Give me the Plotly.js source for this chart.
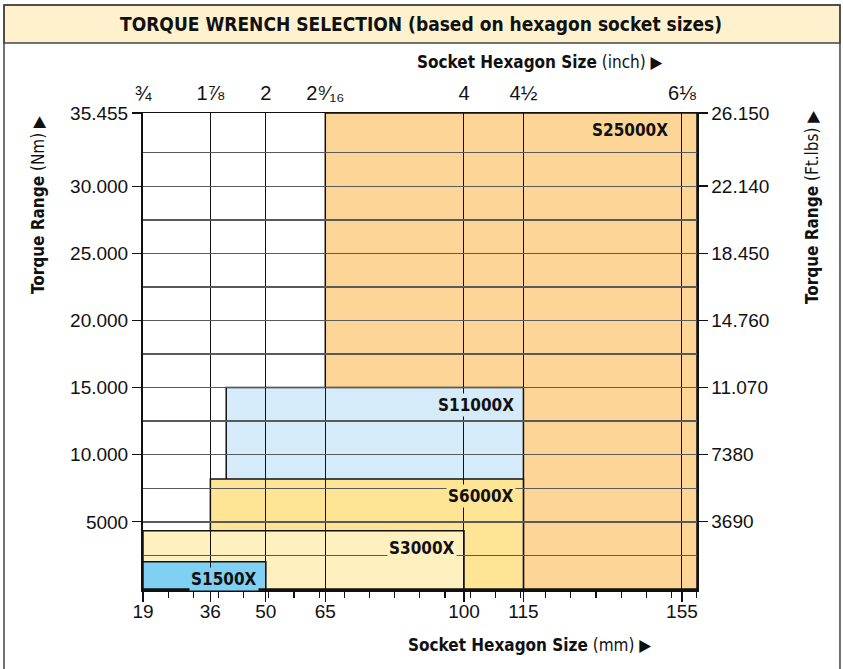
<!DOCTYPE html>
<html>
<head>
<meta charset="utf-8">
<script src="https://cdn.plot.ly/plotly-3.0.1.min.js"></script>
<style>
  html, body { margin: 0; padding: 0; background: #ffffff; }
  #chart { width: 843px; height: 669px; }
</style>
</head>
<body>
<div id="chart"></div>
<script>
// ---- data ----
var models      = ['S25000X', 'S11000X', 'S6000X', 'S3000X', 'S1500X'];
var minSocketMm = [65, 40, 36, 19, 19];
var maxSocketMm = [158.8, 115, 115, 100, 50];
var minTorqueNm = [0, 0, 0, 0, 0];
var maxTorqueNm = [35455, 15000, 8200, 4330, 2034];
var boxColors   = ['#FDD596', '#D5EBFA', '#FEE596', '#FEF0BF', '#80D0F4'];

var mmTicks      = [19, 36, 50, 65, 100, 115, 155];
var mmTickText   = ['19', '36', '50', '65', '100', '115', '155'];
var inchTickText = ['\u00BE', '1\u215E', '2', '2\u2079\u2044\u2081\u2086', '4', '4\u00BD', '6\u215B'];

var nmTicks      = [5000, 10000, 15000, 20000, 25000, 30000, 35455];
var nmTickText   = ['5000', '10.000', '15.000', '20.000', '25.000', '30.000', '35.455'];
var nmGridVals   = [2500, 5000, 7500, 10000, 12500, 15000, 17500, 20000, 22500, 25000, 27500, 30000, 32500];
var ftlbTicks    = [3690, 7380, 11070, 14760, 18450, 22140, 26150];
var ftlbTickText = ['3690', '7380', '11.070', '14.760', '18.450', '22.140', '26.150'];

var xRange   = [19, 158.8];
var nmRange  = [0, 35455];
var ftRange  = [0, 26150];

// ---- styling ----
var NARROW = '"Liberation Sans Narrow", "DejaVu Sans Condensed", "Liberation Sans", sans-serif';
var REG = '"Liberation Sans", Arial, sans-serif';
var tickFont = { family: REG, size: 19, color: '#111111' };

var shapes = [];
var annotations = [];

// frame and title band (paper coordinates)
shapes.push({ type: 'rect', xref: 'paper', yref: 'paper', x0: -0.2509, x1: 1.2581, y0: 1.1471, y1: 1.2269,
  fillcolor: '#FEF2CE', line: { color: '#444444', width: 1.5 }, layer: 'below' });
shapes.push({ type: 'rect', xref: 'paper', yref: 'paper', x0: -0.2509, x1: 1.2581, y0: -0.25, y1: 1.2269,
  fillcolor: 'rgba(0,0,0,0)', line: { color: '#444444', width: 1.5 }, layer: 'below' });

for (var i = 0; i < models.length; i++) {
  shapes.push({
    type: 'rect', xref: 'x', yref: 'y',
    x0: minSocketMm[i], x1: maxSocketMm[i], y0: minTorqueNm[i], y1: maxTorqueNm[i],
    fillcolor: boxColors[i], line: { color: '#111111', width: 1.5 }, layer: 'below'
  });
  annotations.push({
    xref: 'x', yref: 'y', x: Math.min(maxSocketMm[i], 155), y: maxTorqueNm[i],
    xanchor: 'right', yanchor: 'middle',
    xshift: (maxSocketMm[i] > 155 ? -12 : -7), yshift: -17,
    text: '<b>' + models[i] + '</b>', showarrow: false,
    font: { family: NARROW, size: 17, color: '#111111' },
    bgcolor: boxColors[i], borderpad: 1
  });
}

annotations.push({ xref: 'paper', yref: 'paper', x: 0.5018, y: 1.187, xanchor: 'center', yanchor: 'middle',
  text: '<b>TORQUE WRENCH SELECTION (based on hexagon socket sizes)</b>', showarrow: false,
  font: { family: NARROW, size: 19, color: '#111111' } });
annotations.push({ xref: 'paper', yref: 'paper', x: 0.7166, y: 1.1071, xanchor: 'center', yanchor: 'middle',
  text: '<b>Socket Hexagon Size</b> (inch) \u25B6', showarrow: false,
  font: { family: NARROW, size: 17, color: '#111111' } });
annotations.push({ xref: 'paper', yref: 'paper', x: 0.6968, y: -0.1176, xanchor: 'center', yanchor: 'middle',
  text: '<b>Socket Hexagon Size</b> (mm) \u25B6', showarrow: false,
  font: { family: NARROW, size: 17, color: '#111111' } });
annotations.push({ xref: 'paper', yref: 'paper', x: -0.1895, y: 0.8067, xanchor: 'center', yanchor: 'middle',
  textangle: -90, text: '<b>Torque Range</b> (Nm) \u25B6', showarrow: false,
  font: { family: NARROW, size: 17, color: '#111111' } });
annotations.push({ xref: 'paper', yref: 'paper', x: 1.2076, y: 0.8004, xanchor: 'center', yanchor: 'middle',
  textangle: -90, text: '<b>Torque Range</b> (Ft.lbs) \u25B6', showarrow: false,
  font: { family: NARROW, size: 17, color: '#111111' } });

var data = [
  { type: 'scatter', x: [null], y: [null], xaxis: 'x', yaxis: 'y', hoverinfo: 'skip', showlegend: false },
  { type: 'scatter', x: [null], y: [null], xaxis: 'x2', yaxis: 'y', hoverinfo: 'skip', showlegend: false },
  { type: 'scatter', x: [null], y: [null], xaxis: 'x', yaxis: 'y2', hoverinfo: 'skip', showlegend: false },
  { type: 'scatter', x: [null], y: [null], xaxis: 'x', yaxis: 'y3', hoverinfo: 'skip', showlegend: false }
];

var layout = {
  width: 843, height: 669,
  margin: { l: 143, r: 146, t: 113, b: 80 },
  paper_bgcolor: '#ffffff', plot_bgcolor: '#ffffff',
  showlegend: false,
  xaxis: {
    range: xRange, tickmode: 'array', tickvals: mmTicks, ticktext: mmTickText,
    ticks: 'outside', ticklen: 10, tickwidth: 1.2, tickcolor: '#111111',
    showgrid: true, gridcolor: '#111111', gridwidth: 1, zeroline: false,
    showline: true, linecolor: '#111111', linewidth: 2.5,
    tickfont: tickFont, fixedrange: true, ticklabelstandoff: -6,
    minor: { tickmode: 'linear', tick0: 19, dtick: 6.35, ticks: 'outside', ticklen: 6, tickwidth: 1.2, tickcolor: '#111111', showgrid: false }
  },
  xaxis2: {
    overlaying: 'x', side: 'top', anchor: 'y', range: xRange,
    tickmode: 'array', tickvals: mmTicks, ticktext: inchTickText,
    ticks: '', showgrid: false, zeroline: false,
    showline: true, linecolor: '#111111', linewidth: 1.5,
    tickfont: { family: REG, size: 20, color: '#111111' }, fixedrange: true, ticklabelstandoff: 4
  },
  yaxis: {
    range: nmRange, tickmode: 'array', tickvals: nmTicks, ticktext: nmTickText,
    ticks: 'outside', ticklen: 9, tickwidth: 1.2, tickcolor: '#111111',
    showgrid: false, zeroline: false,
    showline: true, linecolor: '#111111', linewidth: 2,
    tickfont: tickFont, fixedrange: true
  },
  yaxis3: {
    overlaying: 'y', anchor: 'x', side: 'left', range: nmRange,
    tickmode: 'array', tickvals: nmGridVals, ticks: '', showticklabels: false,
    showgrid: true, gridcolor: '#5a5a5a', gridwidth: 1.4, zeroline: false, showline: false,
    fixedrange: true
  },
  yaxis2: {
    overlaying: 'y', side: 'right', anchor: 'x', range: ftRange,
    tickmode: 'array', tickvals: ftlbTicks, ticktext: ftlbTickText,
    ticks: 'outside', ticklen: 9, tickwidth: 1.2, tickcolor: '#111111',
    showgrid: false, zeroline: false,
    showline: true, linecolor: '#111111', linewidth: 1.5,
    tickfont: tickFont, fixedrange: true
  },
  shapes: shapes,
  annotations: annotations
};

Plotly.newPlot('chart', data, layout, { displayModeBar: false, staticPlot: true });
</script>
</body>
</html>
